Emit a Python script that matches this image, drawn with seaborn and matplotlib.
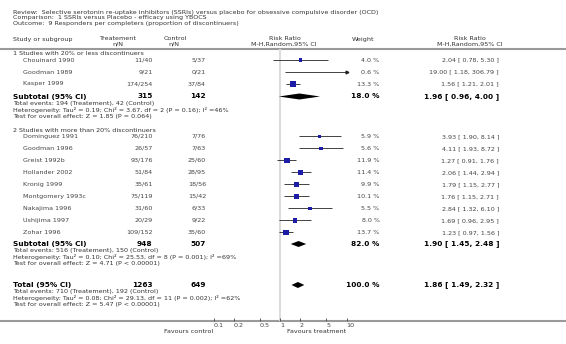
import numpy as np
import pandas as pd
import matplotlib.pyplot as plt
import seaborn as sns

# --- data ---
title_lines = [
    "Review:  Selective serotonin re-uptake inhibitors (SSRIs) versus placebo for obsessive compulsive disorder (OCD)",
    "Comparison:  1 SSRIs versus Placebo - efficacy using YBOCS",
    "Outcome:  9 Responders per completers (proportion of discontinuers)",
]
group_titles = ["1 Studies with 20% or less discontinuers",
                "2 Studies with more than 20% discontinuers"]

studies = ["Chouinard 1990", "Goodman 1989", "Kasper 1999",
           "Dominguez 1991", "Goodman 1996", "Greist 1992b", "Hollander 2002",
           "Kronig 1999", "Montgomery 1993c", "Nakajima 1996", "Ushijima 1997",
           "Zohar 1996"]
group = [1, 1, 1, 2, 2, 2, 2, 2, 2, 2, 2, 2]
treat_nN = ["11/40", "9/21", "174/254", "76/210", "26/57", "93/176", "51/84",
            "35/61", "75/119", "31/60", "20/29", "109/152"]
ctrl_nN = ["5/37", "0/21", "37/84", "7/76", "7/63", "25/60", "28/95",
           "18/56", "15/42", "6/33", "9/22", "35/60"]
weight = [4.0, 0.6, 13.3, 5.9, 5.6, 11.9, 11.4, 9.9, 10.1, 5.5, 8.0, 13.7]
rr = [2.04, 19.00, 1.56, 3.93, 4.11, 1.27, 2.06, 1.79, 1.76, 2.84, 1.69, 1.23]
lo = [0.78, 1.18, 1.21, 1.90, 1.93, 0.91, 1.44, 1.15, 1.15, 1.32, 0.96, 0.97]
hi = [5.30, 306.79, 2.01, 8.14, 8.72, 1.76, 2.94, 2.77, 2.71, 6.10, 2.95, 1.56]

sum_labels = ["Subtotal (95% CI)", "Subtotal (95% CI)", "Total (95% CI)"]
sum_treat = ["315", "948", "1263"]
sum_ctrl = ["142", "507", "649"]
sum_weight = [18.0, 82.0, 100.0]
sum_rr = [1.96, 1.90, 1.86]
sum_lo = [0.96, 1.45, 1.49]
sum_hi = [4.00, 2.48, 2.32]
sum_notes = [
    ["Total events: 194 (Treatement), 42 (Control)",
     "Heterogeneity: Tau² = 0.19; Chi² = 3.67, df = 2 (P = 0.16); I² =46%",
     "Test for overall effect: Z = 1.85 (P = 0.064)"],
    ["Total events: 516 (Treatement), 150 (Control)",
     "Heterogeneity: Tau² = 0.10; Chi² = 25.53, df = 8 (P = 0.001); I² =69%",
     "Test for overall effect: Z = 4.71 (P < 0.00001)"],
    ["Total events: 710 (Treatement), 192 (Control)",
     "Heterogeneity: Tau² = 0.08; Chi² = 29.13, df = 11 (P = 0.002); I² =62%",
     "Test for overall effect: Z = 5.47 (P < 0.00001)"],
]
xticks = [0.1, 0.2, 0.5, 1, 2, 5, 10]
xtick_labels = ["0.1", "0.2", "0.5", "1", "2", "5", "10"]

# --- layout (pixels from top) ---
W, H = 566, 344
study_y = [60, 72, 84] + [136.5 + 12 * i for i in range(9)]
sum_y = [96.5, 244, 285]
group_y = [53.3, 131]
rule_top, rule_bot = 48.7, 321

FS = 4.6
FSB = 5.3
TXT = "#333333"
NUM = "#444444"

sns.set_theme(style="white")
plt.rcParams["font.family"] = ["DejaVu Sans"]

fig = plt.figure(figsize=(W / 100, H / 100), dpi=100)
bg = fig.add_axes([0, 0, 1, 1])
bg.set_xlim(0, W)
bg.set_ylim(H, 0)
bg.axis("off")

ax = fig.add_axes([213.5 / W, (H - rule_bot) / H, 133 / W, (rule_bot - rule_top) / H])
ax.patch.set_alpha(0)

# titles and header
for i, line in enumerate(title_lines):
    bg.text(13, 12.3 + 5.6 * i, line, fontsize=FS, color=TXT, va="center")
bg.text(13, 39, "Study or subgroup", fontsize=FS, color=TXT, va="center")
bg.text(117, 39, "Treatement", fontsize=FS, color=TXT, va="center", ha="center")
bg.text(118, 44.5, "n/N", fontsize=FS, color=TXT, va="center", ha="center")
bg.text(175, 39, "Control", fontsize=FS, color=TXT, va="center", ha="center")
bg.text(174, 44.5, "n/N", fontsize=FS, color=TXT, va="center", ha="center")
bg.text(285, 39, "Risk Ratio", fontsize=FS, color=TXT, va="center", ha="center")
bg.text(283.5, 44.5, "M-H,Random,95% CI", fontsize=FS, color=TXT, va="center", ha="center")
bg.text(363.5, 39, "Weight", fontsize=FS, color=TXT, va="center", ha="center")
bg.text(470, 39, "Risk Ratio", fontsize=FS, color=TXT, va="center", ha="center")
bg.text(470, 44.5, "M-H,Random,95% CI", fontsize=FS, color=TXT, va="center", ha="center")
bg.axhline(rule_top, color="#9a9a9a", lw=1.5)
bg.axhline(rule_bot, color="#9a9a9a", lw=1.5)

for gy, gt in zip(group_y, group_titles):
    bg.text(13, gy, gt, fontsize=FS, color=TXT, va="center")

# study rows text
for i, name in enumerate(studies):
    y = study_y[i]
    bg.text(23, y, name, fontsize=FS, color=NUM, va="center")
    bg.text(152.7, y, treat_nN[i], fontsize=FS, color=NUM, va="center", ha="right")
    bg.text(206, y, ctrl_nN[i], fontsize=FS, color=NUM, va="center", ha="right")
    bg.text(379.5, y, f"{weight[i]:.1f} %", fontsize=FS, color=NUM, va="center", ha="right")
    bg.text(499, y, f"{rr[i]:.2f} [ {lo[i]:.2f}, {hi[i]:.2f} ]", fontsize=FS,
            color=NUM, va="center", ha="right")

# summary rows text
for j, lab in enumerate(sum_labels):
    y = sum_y[j]
    bg.text(13, y, lab, fontsize=FSB, color="black", va="center", weight="bold")
    bg.text(152.7, y, sum_treat[j], fontsize=FSB, color="black", va="center", ha="right", weight="bold")
    bg.text(206, y, sum_ctrl[j], fontsize=FSB, color="black", va="center", ha="right", weight="bold")
    bg.text(379.5, y, f"{sum_weight[j]:.1f} %", fontsize=FSB, color="black", va="center",
            ha="right", weight="bold")
    bg.text(499, y, f"{sum_rr[j]:.2f} [ {sum_lo[j]:.2f}, {sum_hi[j]:.2f} ]", fontsize=FSB,
            color="black", va="center", ha="right", weight="bold")
    for k, note in enumerate(sum_notes[j]):
        bg.text(13, y + 6.6 * (k + 1), note, fontsize=FS, color=TXT, va="center")

bg.text(213, 331.5, "Favours control", fontsize=FS, color=TXT, va="center", ha="right")
bg.text(287, 331.5, "Favours treatment", fontsize=FS, color=TXT, va="center", ha="left")

# --- forest plot ---
ax.set_xscale("log")
ax.set_xlim(0.1, 10)
ax.set_ylim(rule_bot, rule_top)
ax.axvline(1, color="#dcdcdc", lw=1.5, zorder=0)

df = pd.DataFrame({"study": studies, "y": study_y, "rr": rr, "lo": lo, "hi": hi,
                   "weight": weight})
ax.hlines(df["y"], df["lo"], df["hi"].clip(upper=10), color="#222222", lw=0.6)
over = df[df["hi"] > 10]
ax.plot(np.full(len(over), 10.0), over["y"], marker=">", ms=2, lw=0, color="#222222",
        clip_on=False)
sns.scatterplot(data=df, x="rr", y="y", size="weight", sizes=(0.5, 17),
                size_norm=(0.6, 13.7), marker="s", color="#1c1ca6", linewidth=0,
                legend=False, ax=ax, zorder=3)

for j in range(len(sum_rr)):
    y = sum_y[j]
    h = 3.0
    ax.fill([sum_lo[j], sum_rr[j], sum_hi[j], sum_rr[j]], [y, y - h, y, y + h],
            color="black", lw=0)

ax.set_xticks(xticks)
ax.set_xticklabels(xtick_labels)
ax.minorticks_off()
ax.set_yticks([])
ax.set_xlabel("")
ax.set_ylabel("")
for s in ax.spines.values():
    s.set_visible(False)
ax.tick_params(axis="x", direction="in", length=2.5, width=0.6, colors="#444444",
               labelsize=FS, pad=1.5, bottom=True)
for t in ax.get_xticklabels():
    t.set_ha("left")

fig.savefig("out.png", dpi=100)
